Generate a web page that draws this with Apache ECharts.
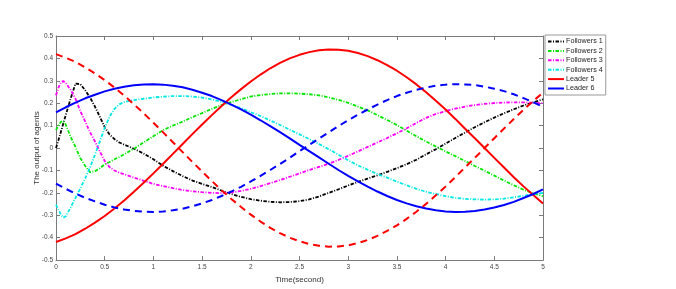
<!DOCTYPE html>
<html><head><meta charset="utf-8">
<script src="https://cdn.jsdelivr.net/npm/echarts@6/dist/echarts.min.js"></script>
<style>html,body{margin:0;padding:0;background:#fff}#c{width:676px;height:289px}</style>
</head><body><div id="c"></div>
<script>
// time samples (seconds)
var tLeader = [0,0.1,0.2,0.3,0.4,0.5,0.6,0.7,0.8,0.9,1.0,1.1,1.2,1.3,1.4,1.5,1.6,1.7,1.8,1.9,2.0,2.1,2.2,2.3,2.4,2.5,2.6,2.7,2.8,2.9,3.0,3.1,3.2,3.3,3.4,3.5,3.6,3.7,3.8,3.9,4.0,4.1,4.2,4.3,4.4,4.5,4.6,4.7,4.8,4.9,5.0];
var tFollower = [0,0.025,0.05,0.075,0.1,0.15,0.2,0.25,0.3,0.35,0.4,0.45,0.5,0.55,0.6,0.65,0.7,0.8,0.9,1.0,1.1,1.2,1.3,1.4,1.5,1.6,1.7,1.8,1.9,2.0,2.1,2.2,2.3,2.4,2.5,2.6,2.7,2.8,2.9,3.0,3.1,3.2,3.3,3.4,3.5,3.6,3.7,3.8,3.9,4.0,4.1,4.2,4.3,4.4,4.5,4.6,4.7,4.8,4.9,5.0];

// Leaders (solid) and their dashed counterparts
var leader5 = [-0.419,-0.403,-0.384,-0.360,-0.333,-0.303,-0.270,-0.234,-0.195,-0.155,-0.113,-0.070,-0.026,0.018,0.062,0.105,0.147,0.188,0.227,0.263,0.297,0.328,0.356,0.380,0.400,0.416,0.428,0.436,0.440,0.439,0.434,0.424,0.410,0.392,0.370,0.345,0.316,0.284,0.249,0.211,0.172,0.130,0.086,0.044,0.000,-0.044,-0.087,-0.130,-0.171,-0.210,-0.247];
var leader5Dashed = [0.419,0.403,0.384,0.360,0.333,0.303,0.270,0.234,0.195,0.155,0.113,0.070,0.026,-0.018,-0.062,-0.105,-0.147,-0.188,-0.227,-0.263,-0.297,-0.328,-0.356,-0.380,-0.400,-0.416,-0.428,-0.436,-0.440,-0.439,-0.434,-0.424,-0.410,-0.392,-0.370,-0.345,-0.316,-0.284,-0.249,-0.211,-0.172,-0.130,-0.086,-0.044,0.000,0.044,0.087,0.130,0.171,0.210,0.247];
var leader6 = [0.159,0.182,0.203,0.222,0.238,0.253,0.265,0.274,0.280,0.284,0.285,0.283,0.278,0.271,0.260,0.247,0.232,0.214,0.194,0.173,0.149,0.124,0.098,0.071,0.043,0.014,-0.014,-0.042,-0.070,-0.098,-0.124,-0.149,-0.172,-0.194,-0.214,-0.232,-0.247,-0.260,-0.270,-0.278,-0.283,-0.285,-0.284,-0.281,-0.274,-0.265,-0.254,-0.240,-0.223,-0.205,-0.184];
var leader6Dashed = [-0.159,-0.182,-0.203,-0.222,-0.238,-0.253,-0.265,-0.274,-0.280,-0.284,-0.285,-0.283,-0.278,-0.271,-0.260,-0.247,-0.232,-0.214,-0.194,-0.173,-0.149,-0.124,-0.098,-0.071,-0.043,-0.014,0.014,0.042,0.070,0.098,0.124,0.149,0.172,0.194,0.214,0.232,0.247,0.260,0.270,0.278,0.283,0.285,0.284,0.281,0.274,0.265,0.254,0.240,0.223,0.205,0.184];

// Followers
var follower1 = [0,0.035,0.072,0.11,0.147,0.22,0.288,0.285,0.258,0.225,0.185,0.14,0.093,0.06,0.04,0.025,0.015,-0.003,-0.025,-0.05,-0.079,-0.103,-0.125,-0.145,-0.160,-0.174,-0.19,-0.205,-0.218,-0.228,-0.235,-0.240,-0.242,-0.241,-0.237,-0.229,-0.216,-0.2,-0.184,-0.167,-0.151,-0.136,-0.122,-0.106,-0.09,-0.072,-0.052,-0.028,-0.005,0.02,0.045,0.069,0.093,0.115,0.136,0.155,0.173,0.19,0.204,0.217];
var follower2 = [0.08,0.1,0.117,0.12,0.105,0.05,0.005,-0.045,-0.08,-0.108,-0.103,-0.09,-0.073,-0.062,-0.05,-0.04,-0.028,-0.003,0.025,0.053,0.08,0.1,0.118,0.138,0.156,0.175,0.192,0.205,0.218,0.23,0.236,0.241,0.244,0.244,0.243,0.24,0.235,0.226,0.215,0.202,0.185,0.168,0.147,0.125,0.103,0.078,0.053,0.029,0.007,-0.015,-0.036,-0.058,-0.08,-0.101,-0.123,-0.145,-0.166,-0.186,-0.202,-0.215];
var follower3 = [0.235,0.27,0.293,0.299,0.29,0.26,0.22,0.165,0.118,0.07,0.03,-0.015,-0.058,-0.085,-0.1,-0.11,-0.117,-0.132,-0.146,-0.16,-0.170,-0.179,-0.187,-0.193,-0.197,-0.2,-0.201,-0.198,-0.191,-0.182,-0.170,-0.157,-0.143,-0.128,-0.113,-0.098,-0.084,-0.07,-0.053,-0.035,-0.015,0.005,0.025,0.045,0.066,0.088,0.112,0.135,0.152,0.165,0.176,0.185,0.192,0.197,0.201,0.203,0.204,0.204,0.202,0.2];
var follower4 = [-0.252,-0.275,-0.297,-0.31,-0.305,-0.265,-0.222,-0.18,-0.135,-0.085,-0.03,0.03,0.09,0.14,0.175,0.195,0.205,0.214,0.22,0.226,0.229,0.232,0.232,0.23,0.225,0.217,0.206,0.193,0.178,0.16,0.143,0.123,0.103,0.082,0.061,0.04,0.018,-0.005,-0.03,-0.055,-0.077,-0.097,-0.116,-0.132,-0.15,-0.166,-0.182,-0.195,-0.205,-0.215,-0.222,-0.227,-0.229,-0.23,-0.229,-0.226,-0.22,-0.213,-0.206,-0.2];

var legendNames = ['Followers 1','Followers 2','Followers 3','Followers 4','Leader 5','Leader 6'];

function pairs(t, v){ return t.map(function(x,i){ return [x, v[i]]; }); }

var FONT = 'Liberation Sans';
var axisGray = '#7a7a7a';
var dashDot = [3.5,1.5,1,1.5];

function follower(name, data, color){
  return {name:name, type:'line', data:pairs(tFollower,data), symbol:'none', showSymbol:false,
    lineStyle:{color:color, width:1.8, type:dashDot}, itemStyle:{color:color}, z:3, animation:false};
}
function leader(name, data, color, dashed){
  return {name:name, type:'line', data:pairs(tLeader,data), symbol:'none', showSymbol:false,
    lineStyle:{color:color, width:2, type: dashed ? [7,5] : 'solid'}, itemStyle:{color:color}, z:4, animation:false};
}

function axisCommon(extra){
  var o = {
    axisLine:{show:true, onZero:false, lineStyle:{color:axisGray, width:1}},
    axisTick:{show:true, inside:true, length:4, lineStyle:{color:axisGray}},
    splitLine:{show:false}
  };
  for (var k in extra) o[k] = extra[k];
  return o;
}

var chart = echarts.init(document.getElementById('c'), null, {renderer:'canvas'});
chart.setOption({
  animation:false,
  backgroundColor:'#fff',
  textStyle:{fontFamily:FONT},
  grid:{left:56, right:133, top:36, bottom:28, show:false},
  legend:{
    data: legendNames, orient:'vertical', left:545, top:35,
    backgroundColor:'#fff', borderColor:'#999', borderWidth:1,
    padding:[3,3,3,2], itemWidth:16, itemHeight:8, itemGap:2.4,
    itemStyle:{opacity:0},
    textStyle:{fontFamily:FONT, fontSize:7.2, color:'#222', padding:[0,0,0,-3]}
  },
  xAxis:[
    axisCommon({type:'value', min:0, max:5, interval:0.5, position:'bottom',
     axisLabel:{fontSize:6.5, color:'#444', margin:4, fontFamily:FONT},
     name:'Time(second)', nameLocation:'middle', nameGap:14,
     nameTextStyle:{fontSize:8, color:'#333', fontFamily:FONT}}),
    axisCommon({type:'value', min:0, max:5, interval:0.5, position:'top',
     axisLabel:{show:false}})
  ],
  yAxis:[
    axisCommon({type:'value', min:-0.5, max:0.5, interval:0.1, position:'left',
     axisLabel:{fontSize:6.5, color:'#444', margin:3, fontFamily:FONT},
     name:'The output of agents', nameLocation:'middle', nameGap:15, nameMoveOverlap:false,
     nameTextStyle:{fontSize:8, color:'#333', fontFamily:FONT}}),
    axisCommon({type:'value', min:-0.5, max:0.5, interval:0.1, position:'right',
     axisLabel:{show:false}})
  ],
  series:[
    follower('Followers 1', follower1, '#000000'),
    follower('Followers 2', follower2, '#00e600'),
    follower('Followers 3', follower3, '#ff00ff'),
    follower('Followers 4', follower4, '#00e8e8'),
    leader('Leader 5', leader5, '#ff0000', false),
    leader('Leader 6', leader6, '#0000ff', false),
    leader('Leader 5 (dashed)', leader5Dashed, '#ff0000', true),
    leader('Leader 6 (dashed)', leader6Dashed, '#0000ff', true)
  ]
});
</script>
</body></html>
